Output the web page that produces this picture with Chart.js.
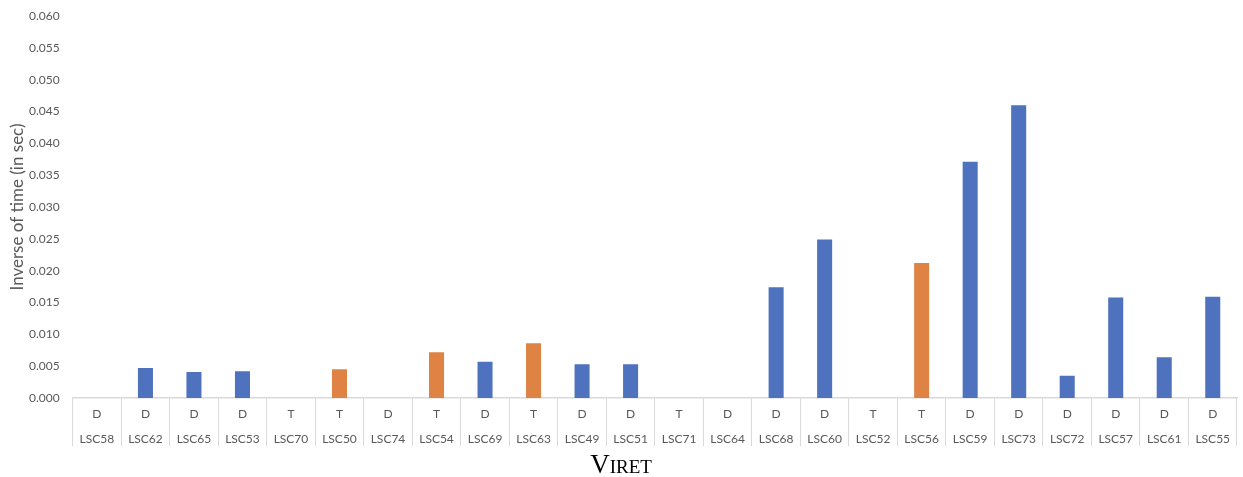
<!DOCTYPE html>
<html>
<head>
<meta charset="utf-8">
<script src="https://cdn.jsdelivr.net/npm/chart.js@4/dist/chart.umd.min.js"></script>
<style>
  html, body { margin: 0; padding: 0; background: #ffffff; }
  #c { display: block; }
</style>
</head>
<body>
<canvas id="c" width="1243" height="477"></canvas>
<script>
// Sample identifiers and their group (D / T)
const sampleIds = ['LSC58','LSC62','LSC65','LSC53','LSC70','LSC50','LSC74','LSC54','LSC69','LSC63','LSC49','LSC51',
                   'LSC71','LSC64','LSC68','LSC60','LSC52','LSC56','LSC59','LSC73','LSC72','LSC57','LSC61','LSC55'];
const sampleTypes = ['D','D','D','D','T','T','D','T','D','T','D','D',
                     'T','D','D','D','T','T','D','D','D','D','D','D'];
// Inverse of time (1/s) per sample
const inverseTime = [0, 0.0047, 0.0041, 0.0042, 0, 0.0045, 0, 0.0072, 0.0057, 0.0086, 0.0053, 0.0053,
                     0, 0, 0.0174, 0.0249, 0, 0.0212, 0.0371, 0.0460, 0.0035, 0.0158, 0.0064, 0.0159];
// Y axis range
const yTicks = { min: 0, max: 0.06, step: 0.005 };

const typeColors = { D: '#4E72BE', T: '#DF8344' };
const labels = sampleIds.map((id, i) => [sampleTypes[i], id]);

new Chart(document.getElementById('c'), {
  type: 'bar',
  data: {
    labels: labels,
    datasets: [{
      label: 'Inverse of time',
      data: inverseTime,
      backgroundColor: sampleTypes.map(t => typeColors[t]),
      borderWidth: 0,
      barPercentage: 0.31,
      categoryPercentage: 1.0
    }]
  },
  options: {
    responsive: false,
    animation: false,
    devicePixelRatio: 1,
    layout: { padding: { top: 2, right: 6, left: 0, bottom: 0 } },
    plugins: { legend: { display: false }, tooltip: { enabled: false } },
    scales: {
      x: {
        offset: true,
        grid: {
          offset: true,
          drawOnChartArea: false,
          drawTicks: true,
          tickLength: 48,
          color: '#D9D9D9',
          lineWidth: 1
        },
        border: { display: true, color: '#D9D9D9', width: 1.5 },
        ticks: {
          color: '#595959',
          font: { family: 'Lato', size: 12, lineHeight: 25 / 12 },
          padding: -44.5,
          maxRotation: 0,
          autoSkip: false
        },
        title: {
          display: true,
          // trailing spaces pull the centred title a little to the left
          text: 'Viret          ',
          color: '#000000',
          font: { family: 'Liberation Serif', size: 27, weight: 'small-caps', lineHeight: 1 },
          padding: { top: 45.5, bottom: -2.5 }
        }
      },
      y: {
        min: yTicks.min,
        max: yTicks.max,
        grid: { display: false, drawTicks: false },
        border: { display: false },
        ticks: {
          stepSize: yTicks.step,
          color: '#595959',
          // compact line height keeps the top tick close to the canvas edge
          font: { family: 'Lato', size: 12, lineHeight: 0.5 },
          padding: 13,
          callback: v => Number(v).toFixed(3)
        },
        title: {
          display: true,
          text: 'Inverse of time (in sec)',
          color: '#595959',
          font: { family: 'Lato', size: 17 },
          padding: { top: 7.8, bottom: -12.2 }
        }
      }
    }
  }
});
</script>
</body>
</html>
